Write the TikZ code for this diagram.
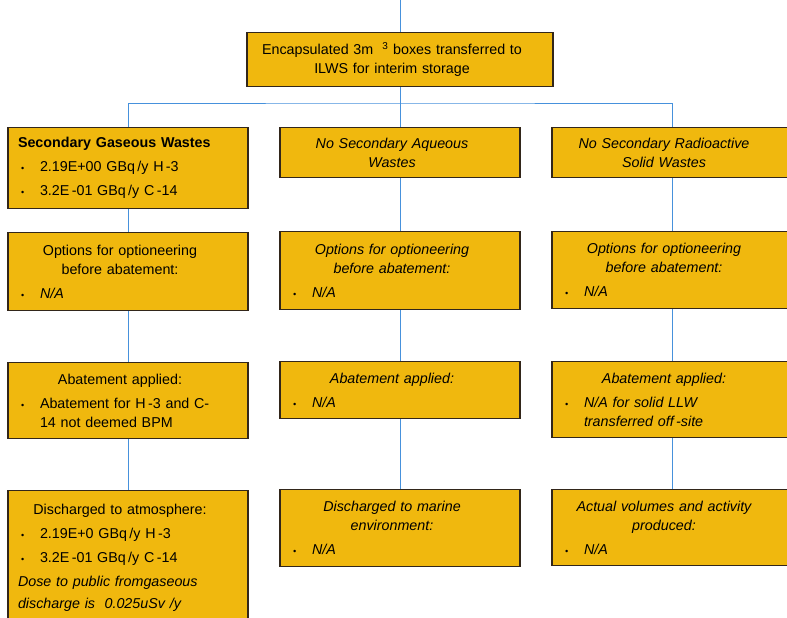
\documentclass[tikz,border=0pt]{standalone}
\usepackage{fontspec}
\setmainfont{Liberation Sans}
\usepackage{tikz}
\usetikzlibrary{positioning,calc}

\definecolor{boxgold}{RGB}{240,184,14}
\definecolor{boxedge}{RGB}{50,38,26}
\definecolor{linkblue}{RGB}{70,145,220}

\newcommand{\ctr}[1]{{\centering\rightskip=16pt plus 1fil #1\par}}
\newcommand{\itm}[1]{\par\vspace{5pt}\hangindent=22pt\hangafter=1\noindent\makebox[22pt][l]{\hspace{3pt}{\fontsize{9pt}{9pt}\selectfont\textbullet}}#1\par}

\begin{document}
\begin{tikzpicture}[x=1pt,y=-1pt,
  wbox/.style={draw=boxedge,line width=1.3pt,fill=boxgold,anchor=north,minimum width=240pt,text width=220pt,inner xsep=10pt,inner ysep=4pt,align=left,font=\fontsize{14.3pt}{19pt}\selectfont},
  itbox/.style={wbox,font=\fontsize{14.3pt}{19pt}\selectfont\itshape},
  link/.style={draw=linkblue,line width=0.8pt}]
\clip (0,0) rectangle (787,618);
%
\node (store) [wbox,minimum width=306pt,text width=286pt,minimum height=54pt] at (400,32) {\ctr{Encapsulated 3m\hspace{9pt}\textsuperscript{3} boxes transferred to\\ ILWS for interim storage}};
%
\node (gas) [wbox,minimum height=81pt] at (128,127) {\textbf{Secondary Gaseous Wastes}\itm{2.19E+00 GBq\,/y H\,-3}\itm{3.2E\,-01 GBq\,/y C\,-14}};
\node (aqu) [itbox,minimum height=50pt] at (400,127) {\ctr{No Secondary Aqueous\\ Wastes}};
\node (sol) [itbox,minimum height=50pt] at (672,127) {\ctr{No Secondary Radioactive\\ Solid Wastes}};
%
\node (gasopt) [wbox,minimum height=78pt] at (128,232) {\ctr{Options for optioneering\\ before abatement:}\itm{\textit{N/A}}};
\node (aquopt) [itbox,minimum height=78pt] at (400,231) {\ctr{Options for optioneering\\ before abatement:}\itm{N/A}};
\node (solopt) [itbox,minimum height=77pt] at (672,231) {\ctr{Options for optioneering\\ before abatement:}\itm{N/A}};
%
\node (gasab) [wbox,minimum height=76pt] at (128,362) {\ctr{Abatement applied:}\itm{Abatement for H\,-3 and C-\newline 14 not deemed BPM}};
\node (aquab) [itbox,minimum height=57pt] at (400,361) {\ctr{Abatement applied:}\itm{N/A}};
\node (solab) [itbox,minimum height=76pt] at (672,361) {\ctr{Abatement applied:}\itm{N/A for solid LLW\newline transferred off\,-site}};
%
\node (gasdis) [wbox,minimum height=134pt] at (128,490) {\ctr{Discharged to atmosphere:}\itm{2.19E+0 GBq\,/y H\,-3}\itm{3.2E\,-01 GBq\,/y C\,-14}\vspace{5pt}\textit{Dose to public fromgaseous\\[3pt] discharge is\ \ 0.025uSv /y}};
\node (aqudis) [itbox,minimum height=77pt] at (400,489) {\ctr{Discharged to marine\\ environment:}\itm{N/A}};
\node (soldis) [itbox,minimum height=76pt] at (672,489) {\ctr{Actual volumes and activity\\ produced:}\itm{N/A}};
%
\coordinate (feed) at (400,0);
\coordinate (bus) at (400,103);
%
\draw[link] (feed) -- (store.north);
\draw[link] (store.south) -- (aqu.north);
\draw[link] (gas.north) |- (bus) -| (sol.north);
%
\draw[link] (gas) -- (gasopt);
\draw[link] (gasopt) -- (gasab);
\draw[link] (gasab) -- (gasdis);
%
\draw[link] (aqu) -- (aquopt);
\draw[link] (aquopt) -- (aquab);
\draw[link] (aquab) -- (aqudis);
%
\draw[link] (sol) -- (solopt);
\draw[link] (solopt) -- (solab);
\draw[link] (solab) -- (soldis);
%
\end{tikzpicture}
\end{document}
